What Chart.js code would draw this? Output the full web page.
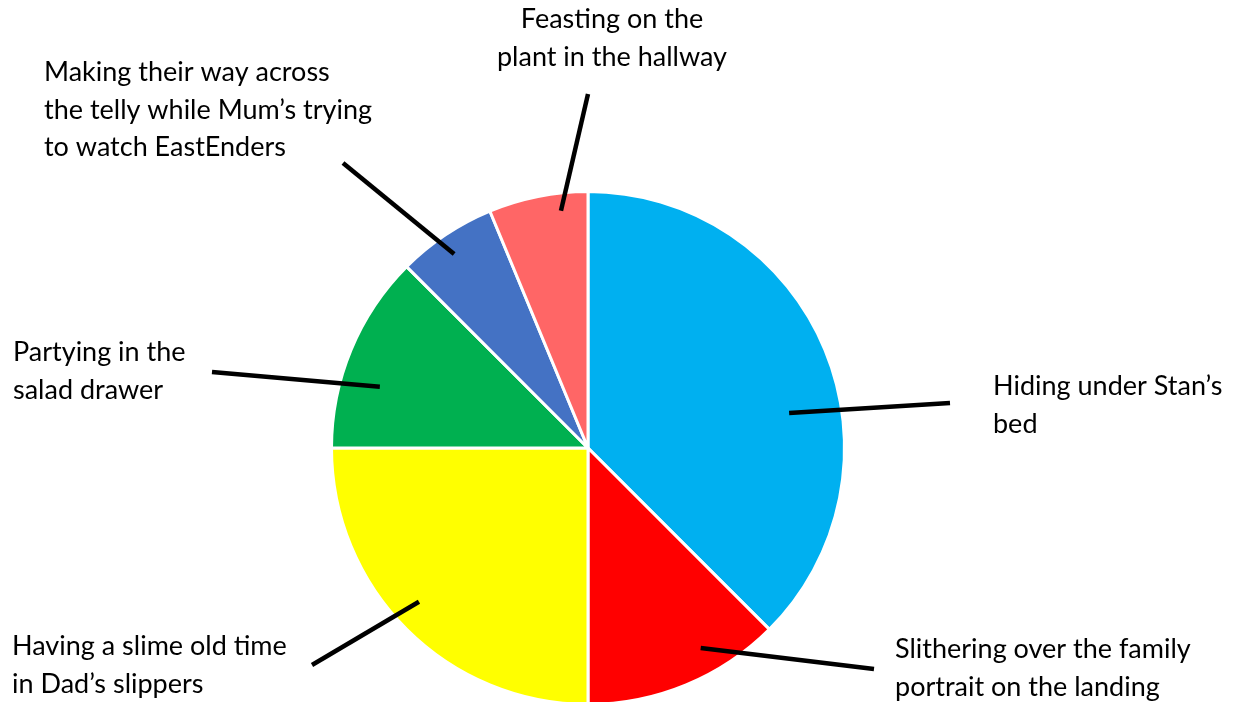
<!DOCTYPE html>
<html>
<head>
<meta charset="utf-8">
<script src="https://cdn.jsdelivr.net/npm/chart.js@4/dist/chart.umd.min.js"></script>
<style>
  html, body { margin: 0; padding: 0; background: #ffffff; overflow: hidden; }
  #wrap { width: 1241px; height: 712px; }
</style>
</head>
<body>
<div id="wrap"><canvas id="c" width="1241" height="712"></canvas></div>
<script>
// ---- data ----
const categories = [
  "Hiding under Stan\u2019s bed",
  "Slithering over the family portrait on the landing",
  "Having a slime old time in Dad\u2019s slippers",
  "Partying in the salad drawer",
  "Making their way across the telly while Mum\u2019s trying to watch EastEnders",
  "Feasting on the plant in the hallway"
];
const values = [6, 2, 4, 2, 1, 1];
const colors = ["#00B0F0", "#FF0000", "#FFFF00", "#00B050", "#4472C4", "#FF6666"];
const labelLines = [
  ["Hiding under Stan\u2019s", "bed"],
  ["Slithering over the family", "portrait on the landing"],
  ["Having a slime old time", "in Dad\u2019s slippers"],
  ["Partying in the", "salad drawer"],
  ["Making their way across", "the telly while Mum\u2019s trying", "to watch EastEnders"],
  ["Feasting on the", "plant in the hallway"]
];

// ---- label layout (positions only) ----
// leader start: polar relative to pie centre (deg clockwise from top, fraction of radius)
// leader end and text: pixel positions
const labelLayout = [
  { a: 80.1,  f: 0.796, ex: 950, ey: 403, tx: 993, ty: 395, align: "left" },
  { a: 150.6, f: 0.895, ex: 874, ey: 669, tx: 895, ty: 658, align: "left" },
  { a: 227.7, f: 0.891, ex: 312, ey: 665, tx: 12,  ty: 655, align: "left" },
  { a: 286.4, f: 0.846, ex: 212, ey: 372, tx: 13,  ty: 361, align: "left" },
  { a: 325.4, f: 0.919, ex: 343, ey: 163, tx: 44,  ty: 81,  align: "left" },
  { a: 353.5, f: 0.931, ex: 588, ey: 94,  tx: 612, ty: 28,  align: "center" }
];
const lineHeight = 37.5;

const leaderPlugin = {
  id: "leaders",
  afterDatasetsDraw(chart) {
    const ctx = chart.ctx;
    const meta = chart.getDatasetMeta(0);
    const arc = meta.data[0];
    const cx = arc.x, cy = arc.y, R = arc.outerRadius;
    ctx.save();
    ctx.strokeStyle = "#000000";
    ctx.lineWidth = 4.5;
    ctx.lineCap = "butt";
    labelLayout.forEach((L, i) => {
      const ang = (L.a - 90) * Math.PI / 180;
      const sx = cx + Math.cos(ang) * R * L.f;
      const sy = cy + Math.sin(ang) * R * L.f;
      ctx.beginPath();
      ctx.moveTo(sx, sy);
      ctx.lineTo(L.ex, L.ey);
      ctx.stroke();
    });
    ctx.fillStyle = "#000000";
    ctx.font = "27px Lato";
    ctx.textBaseline = "alphabetic";
    labelLayout.forEach((L, i) => {
      ctx.textAlign = L.align;
      labelLines[i].forEach((t, j) => {
        ctx.fillText(t, L.tx, L.ty + j * lineHeight);
      });
    });
    ctx.restore();
  }
};

new Chart(document.getElementById("c"), {
  type: "pie",
  data: {
    labels: categories,
    datasets: [{
      data: values,
      backgroundColor: colors,
      borderColor: "#ffffff",
      borderWidth: 3
    }]
  },
  options: {
    responsive: false,
    animation: false,
    devicePixelRatio: 1,
    layout: { padding: { left: 330, right: 395, top: 190, bottom: 6 } },
    plugins: {
      legend: { display: false },
      tooltip: { enabled: false },
      title: { display: false }
    }
  },
  plugins: [leaderPlugin]
});
</script>
</body>
</html>
